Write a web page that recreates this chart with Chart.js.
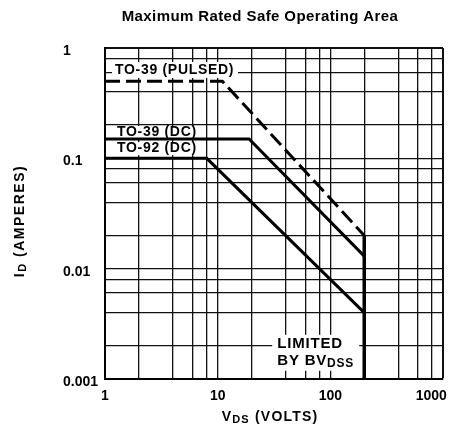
<!DOCTYPE html>
<html>
<head>
<meta charset="utf-8">
<script src="https://cdn.jsdelivr.net/npm/chart.js@4.4.1/dist/chart.umd.min.js"></script>
<style>
  html, body { margin: 0; padding: 0; background: #fff; }
</style>
</head>
<body>
<canvas id="soa" width="453" height="434"></canvas>
<script>
// ---------------------------------------------------------------
//  Curve data  (V_DS in volts, I_D in amperes)
// ---------------------------------------------------------------
const pulsedV = [1, 11, 200];
const pulsedI = [0.5, 0.5, 0.02];
const to39V   = [1, 19, 200];
const to39I   = [0.15, 0.15, 0.013];
const to92V   = [1, 8, 200];
const to92I   = [0.1, 0.1, 0.004];
const bvdssV  = [200, 200];
const bvdssI  = [0.02, 0.001];

// grid lines sit at 1, 2, 4, 6, 8 in every decade
const xGrid = [1, 2, 4, 6, 8, 10, 20, 40, 60, 80, 100, 200, 400, 600, 800, 1000];
const yGrid = [0.001, 0.002, 0.004, 0.006, 0.008, 0.01, 0.02, 0.04, 0.06, 0.08,
               0.1, 0.2, 0.4, 0.6, 0.8, 1];
const xLabels = [1, 10, 100, 1000];
const yLabels = [0.001, 0.01, 0.1, 1];

// ---------------------------------------------------------------
//  Helpers
// ---------------------------------------------------------------
const FONT = '"Liberation Sans", Arial, sans-serif';
const toPoints = (xs, ys) => xs.map((v, i) => ({ x: v, y: ys[i] }));

// draw a run of text pieces: [text, size, dy]  (dy lowers subscripts)
function drawRuns(ctx, runs, x, y, align, spacing) {
  ctx.letterSpacing = spacing + "px";
  let w = 0;
  for (const [t, s] of runs) {
    ctx.font = `bold ${s}px ${FONT}`;
    w += ctx.measureText(t).width;
  }
  let cx = align === "center" ? x - w / 2 : align === "right" ? x - w : x;
  ctx.textAlign = "left";
  ctx.textBaseline = "middle";
  for (const [t, s, dy] of runs) {
    ctx.font = `bold ${s}px ${FONT}`;
    ctx.fillText(t, cx, y + (dy || 0));
    cx += ctx.measureText(t).width;
  }
  ctx.letterSpacing = "0px";
  return w;
}

// ---------------------------------------------------------------
//  Curve labels (white boxes over the grid) + titles
// ---------------------------------------------------------------
const soaLabels = {
  id: "soaLabels",
  beforeDatasetsDraw(chart) {
    const { ctx, scales: { x, y } } = chart;
    const left = x.getPixelForValue(1);
    ctx.save();
    ctx.fillStyle = "#000";

    const box = (x0, y0, x1, y1) => {
      ctx.fillStyle = "#fff";
      ctx.fillRect(x0, y0, x1 - x0, y1 - y0);
      ctx.fillStyle = "#000";
    };

    // TO-39 (PULSED)
    let cy = (y.getPixelForValue(0.8) + y.getPixelForValue(0.5)) / 2;
    box(left + 7, cy - 8, left + 133, cy + 8);
    drawRuns(ctx, [["TO-39 (PULSED)", 14]], left + 10, cy, "left", 0.7);

    // TO-39 (DC)
    cy = (y.getPixelForValue(0.2) + y.getPixelForValue(0.15)) / 2;
    box(left + 9, cy - 6, left + 97, cy + 6);
    drawRuns(ctx, [["TO-39 (DC)", 14]], left + 12, cy, "left", 0.7);

    // TO-92 (DC)
    cy = (y.getPixelForValue(0.15) + y.getPixelForValue(0.1)) / 2;
    box(left + 9, cy - 6.5, left + 95, cy + 6.5);
    drawRuns(ctx, [["TO-92 (DC)", 14]], left + 12, cy, "left", 0.7);

    // LIMITED BY BVDSS
    const right = x.getPixelForValue(200) - 9;
    const y2 = y.getPixelForValue(0.002);
    box(right - 83, y2 - 11, right + 4, y2 + 25);
    drawRuns(ctx, [["LIMITED", 15]], right - 78, y2 - 2, "left", 0.8);
    drawRuns(ctx, [["BY BV", 15], ["DSS", 12, 3]], right - 78, y2 + 15, "left", 0.8);

    ctx.restore();
  },
  afterDraw(chart) {
    const { ctx } = chart;
    ctx.save();
    ctx.fillStyle = "#000";
    drawRuns(ctx, [["Maximum Rated Safe Operating Area", 15]], 260, 17, "center", 0.4);
    drawRuns(ctx, [["V", 14], ["DS", 11, 3], [" (VOLTS)", 14]], 270, 417, "center", 1.2);
    ctx.translate(20, 221);
    ctx.rotate(-Math.PI / 2);
    drawRuns(ctx, [["I", 14], ["D", 11, 3], [" (AMPERES)", 14]], 0, 0, "center", 1.5);
    ctx.restore();
  },
};

// ---------------------------------------------------------------
//  Chart
// ---------------------------------------------------------------
const line = (pts, extra) => Object.assign({
  data: pts,
  borderColor: "#000",
  borderWidth: 3,
  pointRadius: 0,
  tension: 0,
  borderJoinStyle: "miter",
  borderCapStyle: "butt",
  fill: false,
}, extra);

new Chart(document.getElementById("soa"), {
  type: "line",
  data: {
    datasets: [
      line(toPoints(pulsedV, pulsedI), { label: "TO-39 (PULSED)", borderDash: [15, 6] }),
      line(toPoints(to39V, to39I), { label: "TO-39 (DC)" }),
      line(toPoints(to92V, to92I), { label: "TO-92 (DC)" }),
      line(toPoints(bvdssV, bvdssI), { label: "BVDSS", borderWidth: 3.5 }),
    ],
  },
  options: {
    responsive: false,
    animation: false,
    devicePixelRatio: 1,
    layout: { padding: { left: 63, right: 10, top: 48, bottom: 0 } },
    plugins: { legend: { display: false }, tooltip: { enabled: false } },
    scales: {
      x: {
        type: "logarithmic",
        min: 1,
        max: 1000,
        afterBuildTicks: s => { s.ticks = xGrid.map(v => ({ value: v })); },
        afterFit: s => { s.height = 55; s.paddingLeft = 0; s.paddingRight = 0; },
        ticks: {
          autoSkip: false,
          maxRotation: 0,
          padding: 9,
          color: "#000",
          font: { family: FONT, size: 14, weight: "bold" },
          // trailing spaces pull the last label back inside the canvas
          callback: v => !xLabels.includes(v) ? "" : v === 1000 ? "1000      " : String(v),
        },
        grid: {
          drawTicks: false,
          color: "#111",
          lineWidth: c => (c.tick && c.tick.value === 1000 ? 2 : 1.3),
        },
        border: { color: "#000", width: 2 },
      },
      y: {
        type: "logarithmic",
        min: 0.001,
        max: 1,
        afterBuildTicks: s => { s.ticks = yGrid.map(v => ({ value: v })); },
        afterFit: s => { s.width = 105 - 63; },
        ticks: {
          autoSkip: false,
          crossAlign: "far",
          labelOffset: 3,
          color: "#000",
          font: { family: FONT, size: 14, weight: "bold" },
          callback: v => (yLabels.includes(v) ? String(v) : ""),
        },
        grid: {
          drawTicks: false,
          color: "#111",
          lineWidth: c => (c.tick && c.tick.value === 1 ? 2 : 1.3),
        },
        border: { color: "#000", width: 2 },
      },
    },
  },
  plugins: [soaLabels],
});
</script>
</body>
</html>
